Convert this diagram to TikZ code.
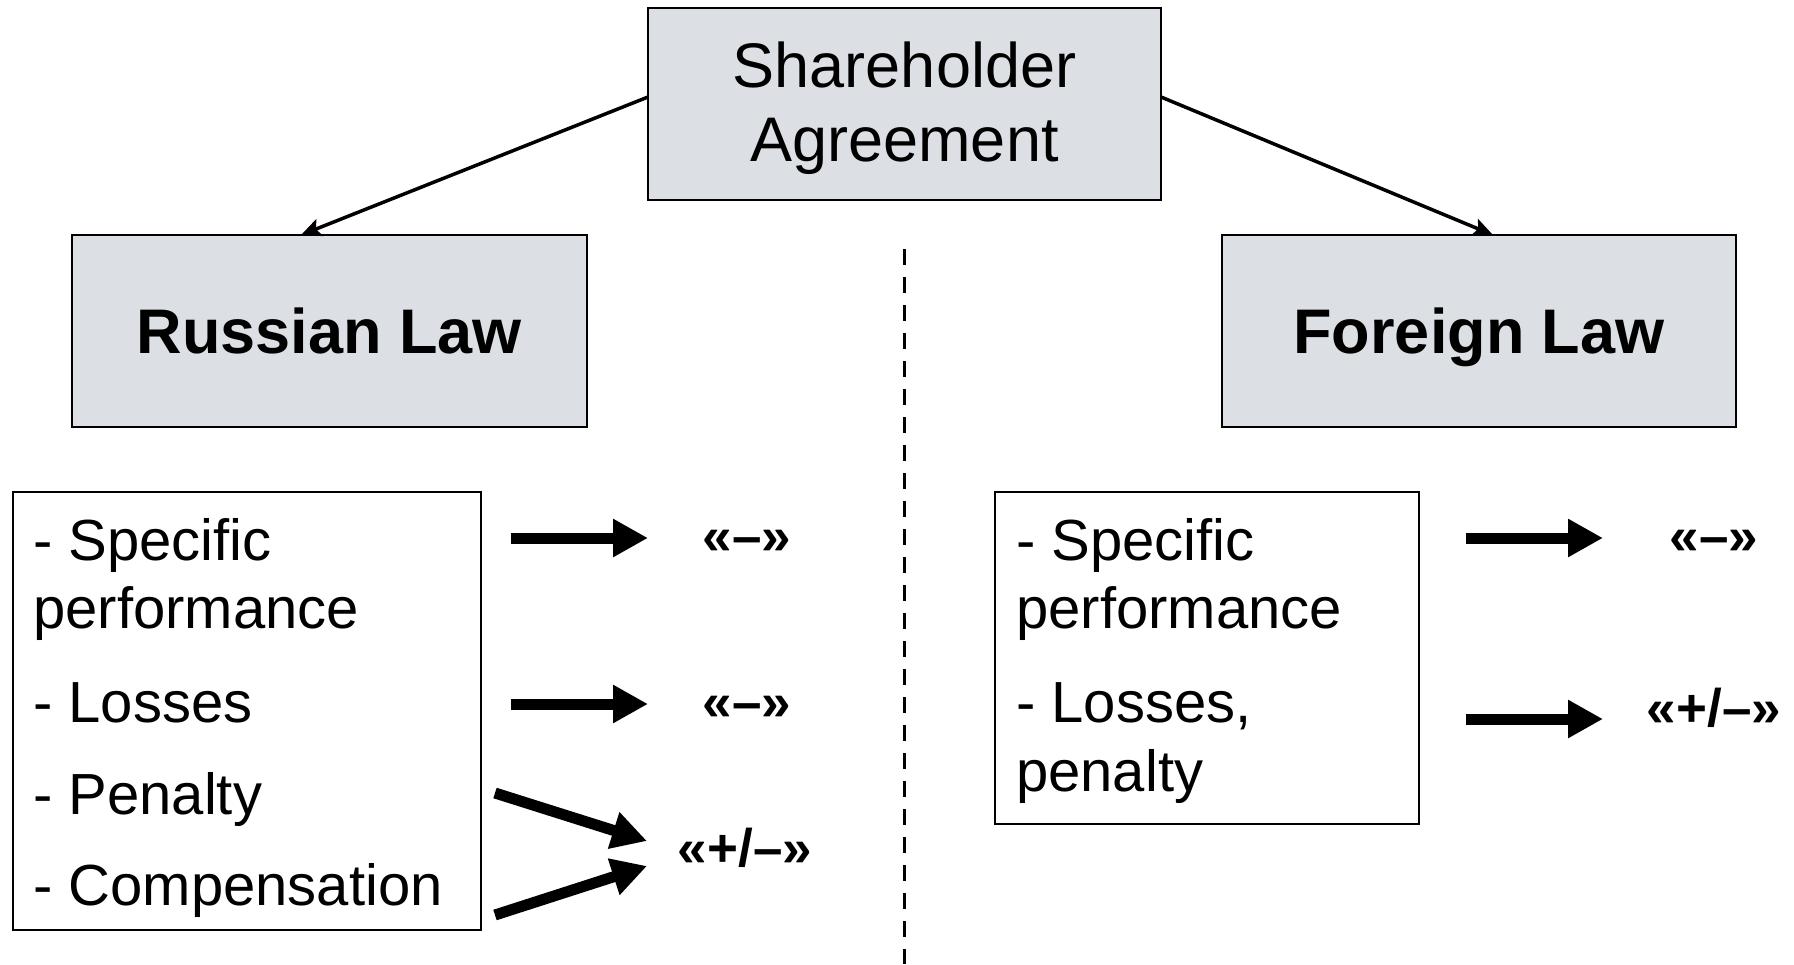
\documentclass[tikz,border=0pt]{standalone}
\usepackage{fontspec}
\setmainfont{Liberation Sans}
\usetikzlibrary{arrows.meta}
\definecolor{boxgray}{RGB}{220,224,228}
\tikzset{
  graybox/.style={draw=black, line width=2pt, fill=boxgray, inner sep=0pt, align=center},
  listbox/.style={draw=black, line width=1.8pt, fill=white, inner sep=0pt},
  listtext/.style={anchor=base west, inner sep=0pt, font=\fontsize{58}{69}\selectfont},
  reslabel/.style={anchor=center, inner sep=0pt, font=\fontsize{53}{60}\selectfont\bfseries},
  thinarrow/.style={line width=3.5pt, -{Stealth[length=20pt,width=18pt,inset=4pt]}},
  fatarrow/.style={line width=11pt, -{Triangle[length=35pt,width=36pt]}},
  divider/.style={line width=3pt, dash pattern=on 16pt off 12pt}
}
\begin{document}
\begin{tikzpicture}[x=1pt,y=-1pt]
\useasboundingbox (0,0) rectangle (1794,964);

% header boxes
\node[graybox, minimum width=513pt, minimum height=192pt,
      font=\fontsize{63}{74}\selectfont] (top) at (904.5,104)
      {\raisebox{-6pt}[\height][\depth]{\begin{tabular}{@{}c@{}}Shareholder\\Agreement\end{tabular}}};
\node[graybox, minimum width=515pt, minimum height=192pt, text depth=0pt,
      font=\fontsize{63}{74}\selectfont\bfseries] (rus) at (329.5,331) {Russian Law};
\node[graybox, minimum width=514pt, minimum height=192pt, text depth=0pt,
      font=\fontsize{63}{74}\selectfont\bfseries] (for) at (1479,331) {Foreign Law};

% connectors from top box
\coordinate (tl) at (648,97);
\coordinate (tr) at (1161,97);
\coordinate (rl) at (301,235);
\coordinate (fr) at (1493,235);
\draw[thinarrow] (tl) -- (rl);
\draw[thinarrow] (tr) -- (fr);

% divider
\coordinate (d1) at (904,249);
\coordinate (d2) at (904,964);
\draw[divider] (d1) -- (d2);

% list boxes
\node[listbox, minimum width=468pt, minimum height=438pt] (lbox) at (247,711) {};
\node[listbox, minimum width=424pt, minimum height=332pt] (rbox) at (1207,658) {};

% left list text
\node[listtext] (l1) at (33,560) {- Specific};
\node[listtext] (l2) at (33,628) {performance};
\node[listtext] (l3) at (33,722) {- Losses};
\node[listtext] (l4) at (33,814) {- Penalty};
\node[listtext] (l5) at (33,905) {- Compensation};

% right list text
\node[listtext] (r1) at (1016,560) {- Specific};
\node[listtext] (r2) at (1016,628) {performance};
\node[listtext] (r3) at (1016,722) {- Losses,};
\node[listtext] (r4) at (1016,791) {penalty};

% result labels
\node[reslabel] (lm1) at (747,542) {«–»};
\node[reslabel] (lm2) at (747,708) {«–»};
\node[reslabel] (lpm) at (745,848) {«+/–»};
\node[reslabel] (rm1) at (1714,542) {«–»};
\node[reslabel] (rpm) at (1714,708) {«+/–»};

% fat arrows
\coordinate (a1s) at (511,538);  \coordinate (a1e) at (648,538);
\coordinate (a2s) at (511,704);  \coordinate (a2e) at (648,704);
\coordinate (a3s) at (495,793);  \coordinate (a3e) at (647,841);
\coordinate (a4s) at (495,915);  \coordinate (a4e) at (647,866);
\coordinate (b1s) at (1466,538); \coordinate (b1e) at (1603,538);
\coordinate (b2s) at (1466,719); \coordinate (b2e) at (1603,719);
\draw[fatarrow] (a1s) -- (a1e);
\draw[fatarrow] (a2s) -- (a2e);
\draw[fatarrow] (a3s) -- (a3e);
\draw[fatarrow] (a4s) -- (a4e);
\draw[fatarrow] (b1s) -- (b1e);
\draw[fatarrow] (b2s) -- (b2e);
\end{tikzpicture}
\end{document}
